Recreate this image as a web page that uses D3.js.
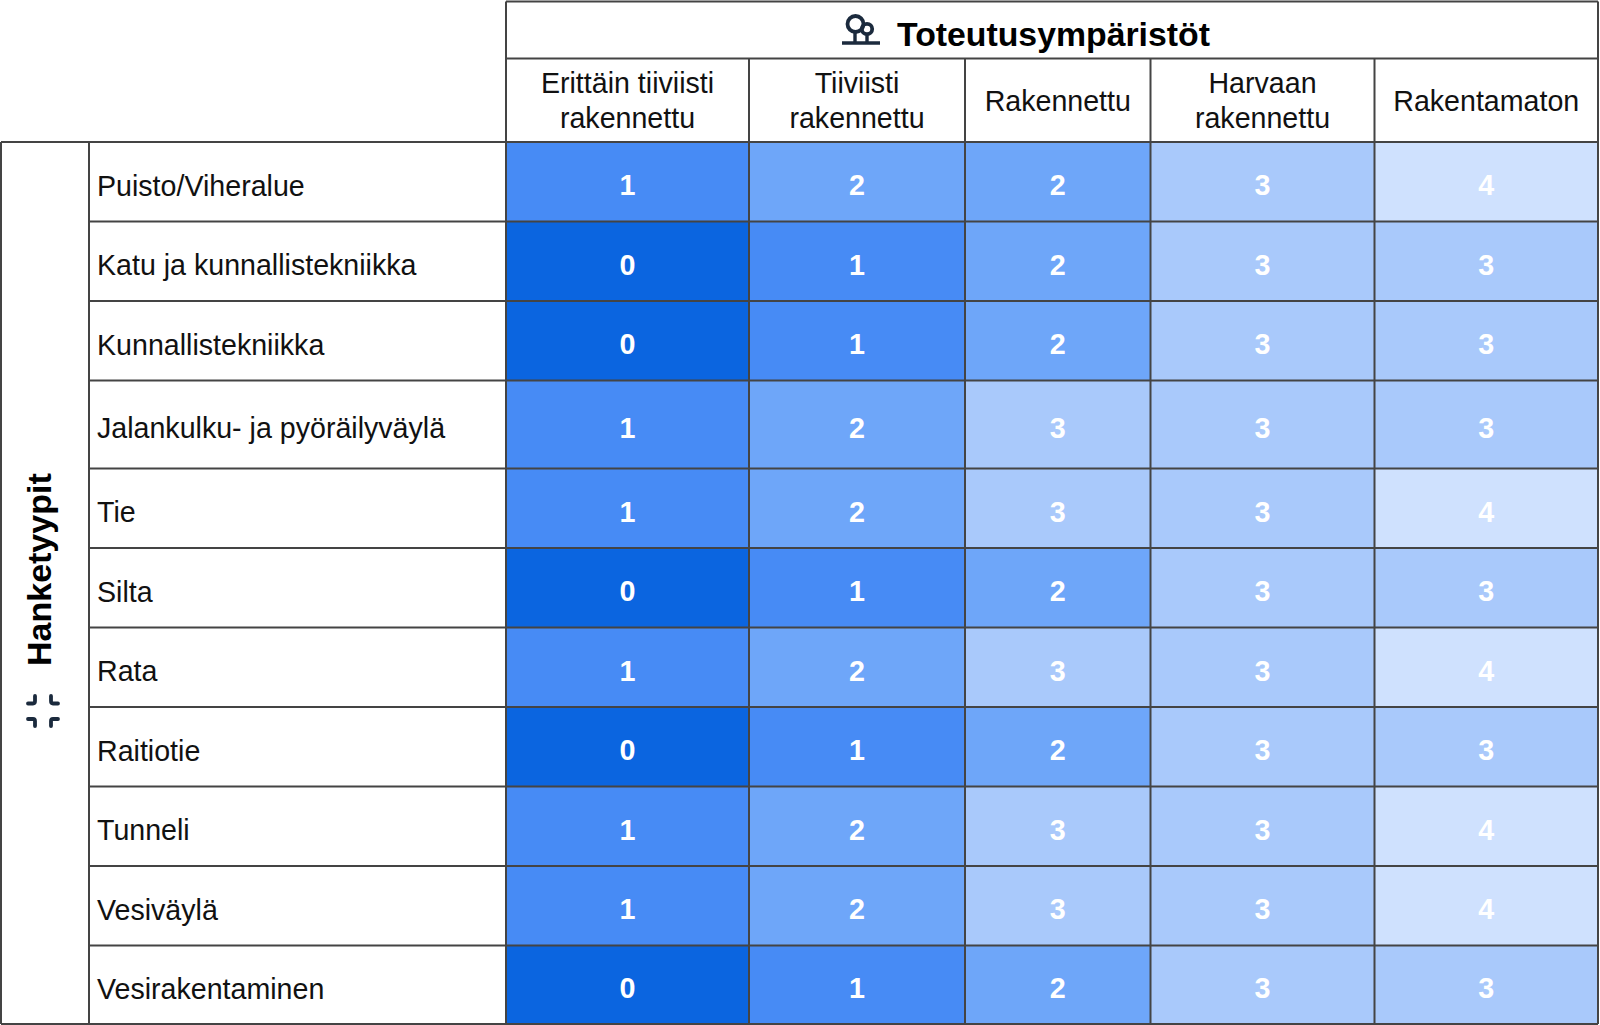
<!DOCTYPE html>
<html><head><meta charset="utf-8">
<script src="https://cdn.jsdelivr.net/npm/d3@7/dist/d3.min.js"></script>
<style>html,body{margin:0;padding:0;background:#fff}svg{display:block}text{font-family:"Liberation Sans",Arial,sans-serif}</style>
</head><body><svg id="c" width="1600" height="1025"></svg>
<script>
const environments = ["Erittäin tiiviisti|rakennettu","Tiiviisti|rakennettu","Rakennettu","Harvaan|rakennettu","Rakentamaton"];
const projectTypes = ["Puisto/Viheralue","Katu ja kunnallistekniikka","Kunnallistekniikka","Jalankulku- ja pyöräilyväylä","Tie","Silta","Rata","Raitiotie","Tunneli","Vesiväylä","Vesirakentaminen"];
const rowValues = [
 [1,2,2,3,4],[0,1,2,3,3],[0,1,2,3,3],[1,2,3,3,3],[1,2,3,3,4],[0,1,2,3,3],
 [1,2,3,3,4],[0,1,2,3,3],[1,2,3,3,4],[1,2,3,3,4],[0,1,2,3,3]];
const levels = [0,1,2,3,4];
const levelColors = ["#0b65e0","#478bf5","#6ea6f9","#a9c9fb","#cfe1fe"];
const colTitle = "Toteutusympäristöt", rowTitle = "Hanketyypit";

const colEdges = [506,749,965,1150.5,1374.5,1598];
const rowEdges = [142,221.5,301,380.5,468.5,548,627.5,707,786.5,866,945.5,1024];
const X0=1, X1=89, Y0=1.5, Y1=58.5, LINE="#444444";

const x = d3.scaleOrdinal(environments, colEdges);
const xEnd = d3.scaleOrdinal(environments, colEdges.slice(1));
const y = d3.scaleOrdinal(projectTypes, rowEdges);
const yEnd = d3.scaleOrdinal(projectTypes, rowEdges.slice(1));
const color = d3.scaleOrdinal(levels, levelColors);
const svg = d3.select("#c");

const cells = projectTypes.flatMap((p,i)=>environments.map((e,j)=>({p,e,v:rowValues[i][j]})));
const cell = svg.append("g").selectAll("g").data(cells).join("g");
cell.append("rect").attr("x",d=>x(d.e)).attr("y",d=>y(d.p))
  .attr("width",d=>xEnd(d.e)-x(d.e)).attr("height",d=>yEnd(d.p)-y(d.p)).attr("fill",d=>color(d.v));
cell.append("text").attr("x",d=>(x(d.e)+xEnd(d.e))/2).attr("y",d=>(y(d.p)+yEnd(d.p))/2+3)
  .attr("dy","0.36em").attr("text-anchor","middle").attr("fill","#fff").attr("font-size",28.7).attr("font-weight",700).text(d=>d.v);

// row labels
svg.append("g").selectAll("text").data(projectTypes).join("text")
  .attr("x",97).attr("y",d=>(y(d)+yEnd(d))/2+3.5).attr("dy","0.36em").attr("font-size",28.6).attr("fill","#111").text(d=>d);

// column labels
const hdr = svg.append("g").selectAll("text").data(environments).join("text")
  .attr("text-anchor","middle").attr("font-size",28.6).attr("fill","#111")
  .attr("transform",d=>`translate(${(x(d)+xEnd(d))/2},${(Y1+rowEdges[0])/2})`);
hdr.selectAll("tspan").data(d=>{const s=d.split("|");return s.map((t,i)=>({t,dy:(i-(s.length-1)/2)*34.5}));}).join("tspan")
  .attr("x",0).attr("y",d=>d.dy).attr("dy","0.36em").text(d=>d.t);

// titles
svg.append("text").attr("x",897).attr("y",46).attr("font-size",33.8).attr("font-weight",700).attr("fill","#000").text(colTitle);
svg.append("text").attr("transform","translate(51,666) rotate(-90)").attr("font-size",34).attr("font-weight",700).attr("fill","#000").text(rowTitle);

// icons
const ink="#1b2a3d";
const tree = svg.append("g").attr("fill","none").attr("stroke",ink).attr("stroke-width",3.8);
tree.append("circle").attr("cx",855.5).attr("cy",24).attr("r",8);
tree.append("circle").attr("cx",867).attr("cy",29).attr("r",5.2);
tree.append("path").attr("d","M855 32V42M867 34V42").attr("stroke-width",3.4);
tree.append("path").attr("d","M842 43H880").attr("stroke-width",3.4);
const shrink = svg.append("g").attr("fill","none").attr("stroke",ink).attr("stroke-width",3.8).attr("stroke-linecap","round");
shrink.append("path").attr("d","M28 703.5H33Q35 703.5 35 701V696");
shrink.append("path").attr("d","M58 703.5H53Q51 703.5 51 701V696");
shrink.append("path").attr("d","M28 719H33Q35 719 35 721V726");
shrink.append("path").attr("d","M58 719H53Q51 719 51 721V726");

// grid lines
const lines = [];
[X0,X1].forEach(v=>lines.push([v,rowEdges[0],v,rowEdges[11]]));
colEdges.forEach((v,i)=>lines.push([v,(i===0||i===5)?Y0:Y1,v,rowEdges[11]]));
rowEdges.forEach((v,i)=>lines.push([(i===0)?X0:(i===11?X0:X1),v,colEdges[5],v]));
lines.push([colEdges[0],Y0,colEdges[5],Y0],[colEdges[0],Y1,colEdges[5],Y1]);
svg.append("g").attr("stroke",LINE).attr("stroke-width",2).selectAll("line").data(lines).join("line")
  .attr("x1",d=>d[0]).attr("y1",d=>d[1]).attr("x2",d=>d[2]).attr("y2",d=>d[3]);
</script></body></html>
